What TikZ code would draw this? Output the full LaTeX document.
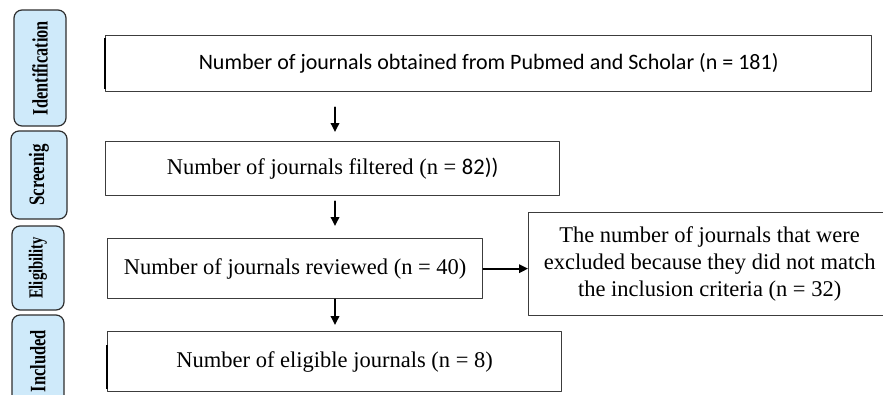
\documentclass[tikz,border=0pt]{standalone}
\usepackage{fontspec}
\setmainfont{Liberation Serif}
\newfontfamily\calibrifont{Carlito}
\usetikzlibrary{arrows.meta,calc,positioning}
\definecolor{stageblue}{HTML}{CFEAFA}
\definecolor{stageline}{HTML}{2E2E2E}
\definecolor{boxline}{HTML}{3C3C3C}
\tikzset{
every picture/.style={line cap=round,line join=round},
flow box/.style={
  draw=boxline,
  line width=1.3pt,
  anchor=north west,
  align=center,
  inner sep=4pt,
  font=\fontsize{22.5}{27}\selectfont
},
stage box/.style={
  draw=stageline,
  fill=stageblue,
  rounded corners=8pt,
  line width=1.2pt,
  rotate=90,
  inner sep=0pt,
  font=\fontsize{22}{24}\selectfont\bfseries
},
edge mark/.style={draw=black, line width=2.4pt, line cap=butt},
fig flow/.style={
  draw=black,
  -{Triangle[length=9pt,width=8.5pt]},
  line width=1.8pt
}
}

\begin{document}
\begin{tikzpicture}[x=1pt,y=-1pt]
\useasboundingbox (0,0) rectangle (883,394);
% stages on the left
\node[stage box,minimum width=116pt,minimum height=52pt] (ident) at (40,68) {\scalebox{0.74}[1]{Identification}};
\node[stage box,minimum width=88pt,minimum height=56pt] (screen) at (39,175) {\scalebox{0.77}[1]{Screenig}};
\node[stage box,minimum width=84pt,minimum height=52pt,font=\fontsize{20}{22}\selectfont\bfseries] (elig) at (38,268) {\scalebox{0.73}[1]{Eligibility}};
\node[stage box,minimum width=92pt,minimum height=52pt] (incl) at (38,361) {\scalebox{0.75}[1]{Included}};
% flow boxes
\node[flow box,minimum width=766pt,minimum height=56pt,font=\calibrifont\fontsize{22}{26}\selectfont] (obtained) at (105,35) {Number of journals obtained from Pubmed and Scholar (n = 181)};
\node[flow box,minimum width=454pt,minimum height=54pt] (filtered) at (105,141) {Number of journals filtered (n = {\calibrifont 82))}};
\node[flow box,minimum width=375pt,minimum height=60pt] (reviewed) at (107,238) {Number of journals reviewed (n = 40)};
\node[flow box,minimum width=362pt,minimum height=103pt] (excluded) at (528,212) {The number of journals that were\\excluded because they did not match\\the inclusion criteria (n = 32)};
\node[flow box,minimum width=454pt,minimum height=60pt] (eligible) at (107,331) {Number of eligible journals (n = 8)};
\draw[edge mark] ([yshift=-3pt]obtained.north west) -- ([yshift=3pt]obtained.south west);
\draw[edge mark] ([yshift=-14pt]eligible.north west) -- ([yshift=3pt]eligible.south west);
\coordinate (axis) at (335,0);
\draw[fig flow,shorten <=15pt,shorten >=9pt] (obtained.south -| axis) -- (filtered.north -| axis);
\draw[fig flow,shorten <=5pt,shorten >=12pt] (filtered.south -| axis) -- (reviewed.north -| axis);
\draw[fig flow,shorten >=6pt] (reviewed.south -| axis) -- (eligible.north -| axis);
\draw[fig flow] (reviewed.east) -- (reviewed.east -| excluded.west);
\end{tikzpicture}
\end{document}
